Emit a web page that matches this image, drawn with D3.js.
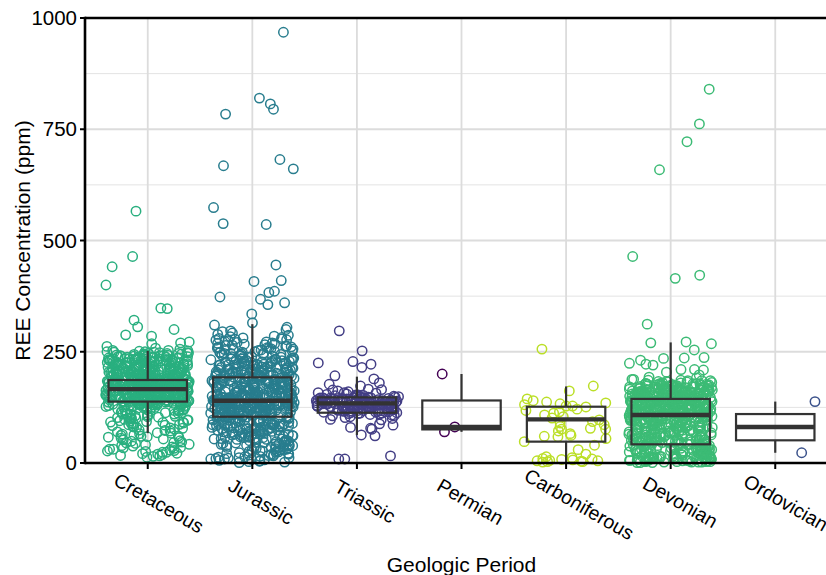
<!DOCTYPE html>
<html>
<head>
<meta charset="utf-8">
<script src="https://cdn.jsdelivr.net/npm/d3@7"></script>
<style>
  html, body { margin: 0; padding: 0; background: #ffffff; }
  svg { display: block; font-family: "Liberation Sans", Arial, Helvetica, sans-serif; }
</style>
</head>
<body>
<div id="chart"></div>
<script>
// categories, in plotting order
const periods = ["Cretaceous", "Jurassic", "Triassic", "Permian", "Carboniferous", "Devonian", "Ordovician"];
const yTicks = [0, 250, 500, 750, 1000];
const yMinor = [125, 375, 625, 875];

// REE concentration (ppm)
const cretaceousREE = [
  152, 178, 203, 131, 166, 244, 187, 95, 171, 140, 229, 158, 62, 183, 214, 147, 119, 196, 175, 38,
  161, 238, 143, 189, 207, 88, 169, 154, 221, 133, 180, 24, 198, 163, 110, 249, 176, 146, 192, 72,
  168, 215, 139, 185, 157, 232, 101, 174, 199, 149, 126, 181, 46, 211, 164, 236, 137, 190, 155, 17,
  173, 205, 144, 226, 160, 84, 186, 151, 219, 128, 195, 167, 241, 58, 179, 142, 208, 170, 115, 31,
  184, 159, 227, 136, 201, 172, 93, 148, 243, 165, 188, 121, 212, 156, 67, 177, 135, 224, 162, 13,
  191, 145, 234, 172, 107, 182, 153, 217, 141, 197, 52, 166, 230, 129, 185, 160, 250, 78, 174, 42,
  150, 209, 138, 188, 163, 246, 99, 176, 222, 145, 193, 118, 169, 27, 203, 157, 239, 134, 181, 65,
  167, 218, 148, 194, 132, 228, 175, 90, 158, 206, 143, 184, 253, 113, 171, 35, 199, 154, 225, 81,
  179, 139, 213, 161, 240, 124, 187, 150, 202, 19, 168, 231, 147, 192, 104, 176, 56, 216, 164, 143,
  186, 233, 155, 200, 127, 173, 245, 141, 190, 70, 162, 220, 136, 178, 96, 210, 49, 183, 149, 237,
  170, 146, 223, 187, 117, 159, 204, 132, 248, 180, 86, 165, 28, 196, 152, 235, 140, 175, 61, 212,
  158, 193, 130, 242, 168, 108, 185, 144, 226, 177, 22, 201, 153, 74, 189, 138, 219, 166, 103, 251,
  181, 149, 208, 163, 44, 232, 172, 125, 195, 157, 214, 83, 174, 142, 247, 188, 112, 161, 39, 205,
  177, 137, 221, 169, 92, 183, 151, 238, 135, 198, 66, 164, 227, 147, 186, 120, 209, 33, 173, 156,
  190, 228, 143, 176, 100, 217, 160, 244, 131, 182, 54, 167, 202, 148, 15, 194, 139, 236, 171, 87,
  163, 199, 127, 241, 154, 182, 98, 216, 171, 145, 230, 187, 60, 158, 205, 136, 249, 174, 119, 192,
  148, 223, 179, 106, 197, 166, 238, 141, 185, 76, 211, 157, 29, 173, 232, 129, 194, 161, 218, 50,
  184, 137, 209, 168, 245, 152, 189, 114, 226, 175, 91, 200, 143, 235, 162, 21, 180, 156, 213, 123,
  172, 196, 134, 220, 159, 243, 186, 102, 167, 207, 146, 233, 178, 68, 191, 150, 224, 130, 256, 41,
  158, 215, 181, 140, 202, 169, 94, 239, 155, 188, 122, 212, 176, 34, 197, 144, 229, 165, 110, 253,
  193, 151, 227, 170, 128, 206, 183, 79, 246, 160, 217, 139, 190, 57, 174, 234, 147, 201, 116, 16,
  177, 221, 142, 195, 164, 240, 133, 185, 97, 210, 153, 231, 179, 45, 168, 204, 125, 248, 157, 189,
  145, 208, 171, 236, 138, 182, 105, 222, 160, 195, 73, 214, 149, 242, 186, 26, 166, 228, 134, 199,
  187, 154, 218, 176, 121, 203, 163, 250, 141, 190, 85, 225, 172, 36, 207, 148, 237, 180, 111, 59,
  169, 230, 150, 198, 131, 215, 178, 89, 244, 162, 206, 137, 183, 20, 196, 157, 223, 173, 102, 252,
  180, 144, 211, 167, 235, 126, 192, 153, 219, 80, 175, 241, 159, 47, 204, 140, 227, 185, 118, 31,
  165, 200, 135, 247, 173, 109, 188, 151, 232, 177, 63, 213, 146, 194, 24, 161, 238, 130, 209, 92,
  566, 464, 441, 400, 348, 347, 321, 306, 300, 288, 285, 272, 270, 268, 262, 258
];
const jurassicREE = [
  141, 87, 196, 122, 255, 63, 173, 108, 218, 35, 150, 94, 204, 131, 279, 12, 165, 117, 236, 78,
  133, 182, 54, 210, 101, 147, 268, 70, 189, 125, 23, 160, 245, 96, 138, 221, 46, 176, 112, 292,
  155, 83, 199, 128, 30, 166, 240, 104, 143, 61, 214, 119, 187, 8, 152, 263, 90, 135, 227, 72,
  178, 115, 41, 208, 148, 99, 258, 126, 170, 57, 194, 137, 18, 232, 110, 162, 284, 81, 144, 201,
  106, 250, 67, 184, 139, 27, 216, 121, 168, 92, 273, 145, 49, 192, 130, 238, 75, 158, 3, 206,
  124, 180, 59, 223, 142, 102, 266, 85, 171, 136, 38, 198, 114, 247, 69, 153, 212, 97, 129, 300,
  161, 44, 190, 118, 229, 80, 146, 15, 203, 134, 260, 105, 174, 64, 220, 127, 185, 33, 149, 242,
  111, 195, 73, 157, 276, 120, 52, 209, 140, 89, 234, 163, 26, 186, 103, 252, 132, 68, 179, 10,
  146, 225, 93, 167, 39, 200, 123, 287, 77, 154, 113, 215, 58, 181, 135, 6, 244, 100, 172, 131,
  197, 65, 141, 270, 116, 183, 48, 219, 107, 159, 86, 233, 128, 20, 191, 151, 257, 74, 138, 207,
  95, 176, 31, 224, 144, 109, 262, 82, 169, 137, 55, 205, 122, 239, 66, 156, 189, 14, 133, 248,
  150, 42, 213, 119, 180, 91, 281, 126, 61, 198, 140, 28, 228, 104, 164, 76, 251, 117, 193, 4,
  134, 187, 71, 155, 230, 98, 143, 36, 211, 125, 265, 84, 174, 147, 50, 202, 112, 241, 62, 160,
  127, 194, 17, 218, 139, 88, 254, 115, 177, 53, 145, 295, 102, 168, 79, 226, 131, 9, 185, 152,
  118, 236, 60, 171, 142, 25, 209, 97, 158, 271, 130, 47, 196, 108, 246, 70, 163, 136, 217, 11,
  148, 83, 203, 124, 40, 179, 259, 106, 139, 64, 222, 156, 21, 190, 121, 277, 92, 166, 132, 199,
  143, 206, 77, 175, 118, 249, 96, 158, 32, 213, 137, 186, 58, 227, 104, 167, 280, 122, 195, 13,
  161, 88, 232, 129, 45, 198, 146, 264, 110, 179, 66, 217, 135, 19, 188, 152, 241, 81, 124, 204,
  99, 170, 37, 222, 140, 115, 256, 73, 185, 131, 51, 207, 157, 2, 235, 120, 176, 93, 148, 289,
  126, 191, 62, 214, 106, 153, 29, 243, 138, 83, 200, 117, 272, 56, 166, 134, 226, 7, 181, 145,
  112, 237, 79, 159, 197, 43, 128, 253, 101, 173, 150, 24, 219, 136, 69, 192, 115, 282, 87, 164,
  141, 208, 53, 183, 123, 16, 230, 95, 156, 261, 133, 72, 202, 109, 177, 39, 244, 142, 90, 187,
  120, 168, 34, 225, 147, 103, 267, 78, 194, 129, 57, 211, 160, 5, 238, 113, 182, 98, 151, 297,
  135, 201, 67, 176, 114, 249, 86, 162, 22, 215, 139, 189, 48, 231, 107, 170, 275, 125, 193, 12,
  154, 80, 228, 132, 42, 205, 144, 260, 100, 178, 63, 220, 137, 27, 184, 149, 246, 75, 128, 209,
  94, 172, 35, 218, 143, 119, 258, 71, 188, 127, 54, 212, 158, 1, 233, 116, 179, 91, 150, 285,
  130, 195, 60, 216, 108, 155, 31, 239, 141, 85, 203, 119, 269, 51, 169, 136, 223, 9, 186, 147,
  113, 234, 82, 161, 199, 46, 126, 255, 103, 174, 152, 19, 221, 138, 74, 190, 111, 278, 89, 167,
  968, 820, 807, 795, 784, 682, 668, 661, 574, 538, 536, 445, 410, 408, 386, 383, 373, 368, 360, 356,
  335, 315, 310, 305
];
const triassicREE = [
  128, 141, 119, 135, 150, 112, 137, 146, 124, 131, 155, 108, 139, 144, 116, 133, 148, 121, 136, 142,
  126, 152, 114, 138, 130, 145, 118, 134, 149, 110, 140, 127, 143, 122, 136, 157, 115, 132, 147, 125,
  139, 104, 146, 129, 137, 120, 151, 113, 135, 142, 128, 160, 117, 138, 144, 123, 131, 148, 106, 141,
  134, 126, 153, 119, 140, 136, 111, 145, 130, 97, 143, 132, 165, 121, 137, 100, 147, 127, 139, 115,
  133, 120, 146, 128, 139, 112, 150, 124, 137, 143, 118, 131, 154, 109, 140, 127, 135, 147, 122, 138,
  129, 142, 116, 134, 149, 125, 136, 107, 144, 131, 158, 119, 138, 126, 145, 113, 132, 141, 102, 136,
  124, 148, 130, 117, 139, 135, 152, 121, 143, 128, 111, 146, 133, 162, 125, 140, 118, 137, 98, 131,
  297, 252, 228, 225, 222, 215, 196, 189, 180, 177, 173, 166, 164, 158, 88, 85, 80, 78, 76, 63,
  61, 16, 9, 9
];
const permianREE = [200, 81, 70];
const carboniferousREE = [
  256, 173, 162, 144, 140, 137, 135, 133, 131, 128, 128, 126, 121, 118, 115, 112, 108, 104, 101, 97,
  93, 90, 86, 82, 78, 76, 76, 72, 66, 62, 60, 59, 55, 48, 40, 30, 20, 14, 12, 10,
  9, 8, 7, 6, 5, 5, 4, 3, 3, 2
];
const devonianREE = [
  112, 45, 158, 8, 134, 76, 169, 23, 101, 147, 61, 128, 3, 176, 89, 140, 34, 119, 155, 52,
  97, 163, 15, 138, 70, 121, 150, 40, 108, 181, 27, 132, 83, 160, 5, 115, 145, 58, 173, 94,
  126, 19, 152, 67, 104, 170, 31, 141, 86, 117, 2, 157, 48, 136, 99, 165, 12, 124, 79, 148,
  55, 178, 107, 37, 143, 91, 130, 9, 161, 72, 114, 154, 25, 137, 64, 168, 102, 43, 127, 185,
  81, 149, 14, 118, 59, 166, 96, 139, 29, 111, 174, 50, 131, 4, 156, 87, 122, 38, 146, 105,
  162, 68, 135, 21, 109, 153, 46, 125, 179, 74, 142, 11, 116, 93, 167, 33, 133, 57, 151, 100,
  7, 144, 84, 172, 120, 42, 159, 66, 129, 17, 106, 183, 53, 138, 90, 150, 28, 113, 164, 75,
  136, 1, 123, 62, 171, 98, 145, 36, 110, 158, 80, 127, 13, 175, 49, 141, 103, 24, 153, 71,
  118, 163, 44, 134, 6, 148, 92, 177, 60, 115, 140, 32, 128, 85, 169, 16, 107, 155, 51, 137,
  95, 10, 147, 73, 126, 180, 39, 112, 160, 65, 132, 2, 143, 88, 166, 26, 119, 152, 56, 104,
  175, 82, 139, 20, 121, 157, 47, 131, 69, 164, 8, 108, 149, 35, 124, 94, 172, 63, 145, 114,
  30, 156, 78, 135, 4, 117, 167, 54, 142, 101, 18, 130, 161, 41, 125, 87, 176, 11, 146, 109,
  150, 64, 123, 186, 22, 138, 97, 159, 45, 113, 6, 133, 77, 168, 105, 152, 27, 129, 58, 144,
  120, 170, 37, 141, 89, 12, 154, 70, 116, 178, 48, 136, 100, 3, 162, 83, 127, 31, 148, 66,
  106, 158, 24, 131, 191, 74, 144, 15, 122, 96, 165, 52, 138, 9, 115, 173, 43, 151, 79, 134,
  198, 57, 126, 14, 165, 91, 140, 35, 110, 182, 68, 149, 1, 128, 103, 171, 46, 137, 84, 193,
  113, 38, 160, 5, 131, 79, 170, 20, 99, 149, 63, 126, 2, 178, 86, 142, 31, 121, 153, 50,
  95, 165, 12, 136, 72, 119, 151, 42, 106, 183, 25, 134, 81, 158, 7, 117, 144, 56, 175, 92,
  128, 17, 150, 69, 102, 172, 33, 139, 88, 115, 4, 155, 46, 138, 97, 167, 10, 122, 77, 146,
  53, 180, 105, 39, 145, 89, 132, 6, 159, 70, 112, 156, 27, 135, 62, 170, 100, 41, 125, 188,
  83, 147, 16, 120, 57, 164, 94, 141, 31, 109, 176, 48, 129, 3, 154, 85, 124, 36, 148, 103,
  160, 66, 133, 23, 107, 151, 44, 127, 177, 76, 140, 13, 118, 91, 169, 29, 131, 59, 153, 98,
  9, 146, 82, 174, 122, 40, 157, 64, 127, 15, 104, 185, 51, 136, 92, 148, 26, 111, 162, 73,
  138, 3, 121, 60, 173, 96, 143, 34, 108, 160, 78, 125, 11, 177, 47, 139, 101, 22, 155, 69,
  116, 161, 42, 132, 8, 150, 90, 179, 58, 113, 142, 30, 126, 83, 171, 18, 105, 157, 49, 139,
  93, 12, 145, 71, 124, 182, 37, 110, 162, 63, 130, 1, 141, 86, 164, 28, 117, 150, 54, 102,
  173, 80, 137, 18, 119, 159, 45, 129, 67, 166, 6, 106, 147, 33, 122, 96, 174, 61, 143, 112,
  28, 154, 76, 133, 2, 115, 169, 52, 140, 99, 20, 128, 163, 39, 123, 85, 178, 14, 144, 107,
  840, 762, 722, 659, 464, 422, 415, 312, 272, 270, 268, 254, 237, 236, 235, 231, 224, 222, 220, 210,
  210, 209, 204, 188, 186, 185
];
const ordovicianREE = [138, 23];

// box summaries per period (ppm): lower whisker, Q1, median, Q3, upper whisker
const boxLow    = [67, 2, 63, 70, 2, 1, 23];
const boxQ1     = [138, 104, 113, 75.5, 48, 42, 51];
const boxMedian = [166, 140, 134, 81, 98, 108, 81];
const boxQ3     = [186.5, 192.5, 147.5, 140.5, 126.5, 144, 110];
const boxHigh   = [252, 312, 194, 200, 172, 271, 138];

const pointColors = ["#29af7f", "#287d8e", "#433e85", "#440154", "#bbdf27", "#3cbb75", "#3b528b"];

const seriesREE = [cretaceousREE, jurassicREE, triassicREE, permianREE, carboniferousREE, devonianREE, ordovicianREE];

const width = 826, height = 575;
const plot = { left: 85, top: 18, right: 838, bottom: 463 };

const svg = d3.select("#chart").append("svg")
  .attr("width", width)
  .attr("height", height);

const x = d3.scalePoint()
  .domain(periods)
  .range([plot.left, plot.right])
  .padding(0.6);
const step = x.step();

const y = d3.scaleLinear()
  .domain([0, 1000])
  .range([plot.bottom, plot.top]);

// grid
const grid = svg.append("g").attr("class", "grid");
grid.selectAll(".minor")
  .data(yMinor)
  .enter().append("line")
  .attr("x1", plot.left).attr("x2", plot.right)
  .attr("y1", d => y(d)).attr("y2", d => y(d))
  .attr("stroke", "#e3e3e3")
  .attr("stroke-width", 1);
grid.selectAll(".major")
  .data(yTicks)
  .enter().append("line")
  .attr("x1", plot.left).attr("x2", plot.right)
  .attr("y1", d => y(d)).attr("y2", d => y(d))
  .attr("stroke", "#dcdcdc")
  .attr("stroke-width", 1.8);
grid.selectAll(".vert")
  .data(periods)
  .enter().append("line")
  .attr("x1", d => x(d)).attr("x2", d => x(d))
  .attr("y1", plot.top).attr("y2", plot.bottom)
  .attr("stroke", "#dcdcdc")
  .attr("stroke-width", 1.8);

// deterministic horizontal jitter (±40% of the category step)
function jitter(i, k) {
  let h = Math.sin(i * 12.9898 + k * 78.233) * 43758.5453;
  h = h - Math.floor(h);
  return (h - 0.5) * 0.8 * step;
}

const points = [];
seriesREE.forEach((vals, k) => {
  vals.forEach((v, i) => points.push({ period: periods[k], k: k, i: i, value: v }));
});

svg.append("g").attr("class", "points")
  .selectAll("circle")
  .data(points)
  .enter().append("circle")
  .attr("cx", d => x(d.period) + jitter(d.i, d.k))
  .attr("cy", d => y(d.value))
  .attr("r", 4.7)
  .attr("fill", "none")
  .attr("stroke", d => pointColors[d.k])
  .attr("stroke-width", 1.5);

// boxes
const boxes = periods.map((p, k) => ({
  period: p, lo: boxLow[k], q1: boxQ1[k], med: boxMedian[k], q3: boxQ3[k], hi: boxHigh[k]
}));
const boxW = step * 0.75;
const boxG = svg.append("g").attr("class", "boxes")
  .selectAll("g")
  .data(boxes)
  .enter().append("g");

boxG.append("line")
  .attr("x1", d => x(d.period)).attr("x2", d => x(d.period))
  .attr("y1", d => y(d.q3)).attr("y2", d => y(d.hi))
  .attr("stroke", "#333333").attr("stroke-width", 2.2);
boxG.append("line")
  .attr("x1", d => x(d.period)).attr("x2", d => x(d.period))
  .attr("y1", d => y(d.q1)).attr("y2", d => y(d.lo))
  .attr("stroke", "#333333").attr("stroke-width", 2.2);
boxG.append("rect")
  .attr("x", d => x(d.period) - boxW / 2)
  .attr("y", d => y(d.q3))
  .attr("width", boxW)
  .attr("height", d => y(d.q1) - y(d.q3))
  .attr("fill", "none")
  .attr("stroke", "#333333")
  .attr("stroke-width", 2.2);
boxG.append("line")
  .attr("x1", d => x(d.period) - boxW / 2).attr("x2", d => x(d.period) + boxW / 2)
  .attr("y1", d => y(d.med)).attr("y2", d => y(d.med))
  .attr("stroke", "#333333").attr("stroke-width", 4.4);

// axes frame
svg.append("line")
  .attr("x1", plot.left).attr("x2", plot.right)
  .attr("y1", plot.top).attr("y2", plot.top)
  .attr("stroke", "#000").attr("stroke-width", 2.6);
svg.append("line")
  .attr("x1", plot.left).attr("x2", plot.right)
  .attr("y1", plot.bottom).attr("y2", plot.bottom)
  .attr("stroke", "#000").attr("stroke-width", 2.6);
svg.append("line")
  .attr("x1", plot.left).attr("x2", plot.left)
  .attr("y1", plot.top - 1.3).attr("y2", plot.bottom + 1.3)
  .attr("stroke", "#000").attr("stroke-width", 2.6);

// y axis ticks and labels
const yAxis = svg.append("g").selectAll("g")
  .data(yTicks)
  .enter().append("g")
  .attr("transform", d => `translate(${plot.left}, ${y(d)})`);
yAxis.append("line")
  .attr("x1", -5).attr("x2", 0)
  .attr("stroke", "#000").attr("stroke-width", 2);
yAxis.append("text")
  .attr("x", -8)
  .attr("dy", "0.35em")
  .attr("text-anchor", "end")
  .attr("font-size", "20.5px")
  .attr("fill", "#000")
  .text(d => d);

// x axis ticks and labels
const xAxis = svg.append("g").selectAll("g")
  .data(periods)
  .enter().append("g");
xAxis.append("line")
  .attr("x1", d => x(d)).attr("x2", d => x(d))
  .attr("y1", plot.bottom).attr("y2", plot.bottom + 6)
  .attr("stroke", "#000").attr("stroke-width", 2);
xAxis.append("text")
  .attr("transform", d => `translate(${x(d) + 2.5}, 498) rotate(30)`)
  .attr("text-anchor", "middle")
  .attr("dy", "0.35em")
  .attr("font-size", "19.5px")
  .attr("fill", "#000")
  .text(d => d)
  .attr("x", function() { return this.getComputedTextLength() * 0.1; });

// axis titles
svg.append("text")
  .attr("x", (plot.left + plot.right) / 2)
  .attr("y", 572)
  .attr("text-anchor", "middle")
  .attr("font-size", "21px")
  .attr("fill", "#000")
  .text("Geologic Period");
svg.append("text")
  .attr("transform", `translate(30, ${(plot.top + plot.bottom) / 2}) rotate(-90)`)
  .attr("text-anchor", "middle")
  .attr("font-size", "21px")
  .attr("fill", "#000")
  .text("REE Concentration (ppm)");
</script>
</body>
</html>
